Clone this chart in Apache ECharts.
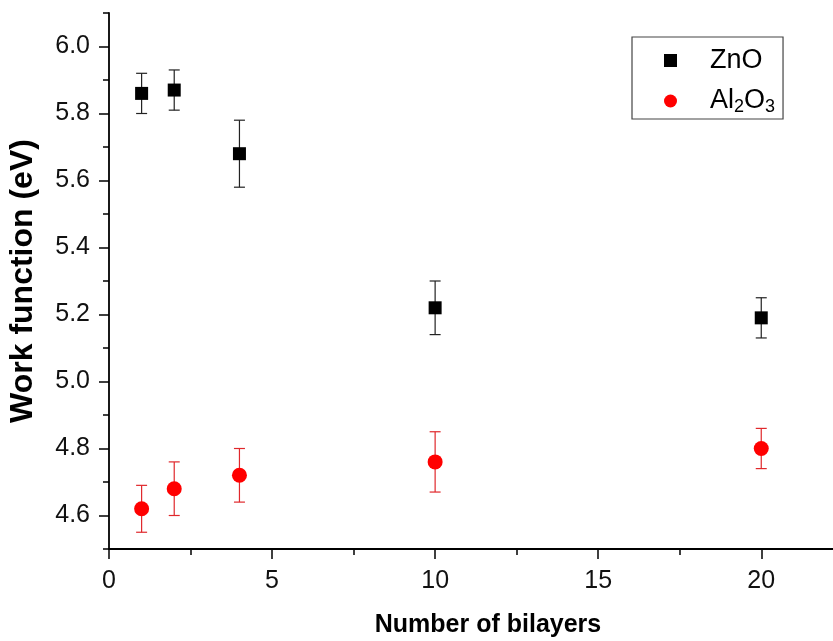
<!DOCTYPE html>
<html>
<head>
<meta charset="utf-8">
<script src="https://cdn.jsdelivr.net/npm/echarts@6/dist/echarts.min.js"></script>
<style>html,body{margin:0;padding:0;background:#fff}#c{width:833px;height:641px}</style>
</head>
<body>
<div id="c"></div>
<script>
// Data
const bilayers = [1, 2, 4, 10, 20];
const znoValues = [5.86, 5.87, 5.68, 5.22, 5.19];
const znoLow = [5.80, 5.81, 5.58, 5.14, 5.13];
const znoHigh = [5.92, 5.93, 5.78, 5.30, 5.25];
const alValues = [4.62, 4.68, 4.72, 4.76, 4.80];
const alLow = [4.55, 4.60, 4.64, 4.67, 4.74];
const alHigh = [4.69, 4.76, 4.80, 4.85, 4.86];
const xMajorTicks = [0, 5, 10, 15, 20];
const xMinorTicks = [2.5, 7.5, 12.5, 17.5];
const yMajorTicks = [4.6, 4.8, 5.0, 5.2, 5.4, 5.6, 5.8, 6.0];
const yMinorTicks = [4.5, 4.7, 4.9, 5.1, 5.3, 5.5, 5.7, 5.9, 6.1];

const FONT = '"Liberation Sans", Arial, sans-serif';
const X_MIN = 0, X_MAX = 22.2, Y_MIN = 4.5, Y_MAX = 6.1;

function errData(xs, lo, hi) { return xs.map((x, i) => [x, lo[i], hi[i]]); }
function errRender(color) {
  return function (params, api) {
    const x = api.value(0);
    const pLo = api.coord([x, api.value(1)]);
    const pHi = api.coord([x, api.value(2)]);
    const w = 5.5;
    const st = { stroke: color, lineWidth: 1.2 };
    return {
      type: 'group',
      children: [
        { type: 'line', shape: { x1: pLo[0], y1: pLo[1], x2: pHi[0], y2: pHi[1] }, style: st },
        { type: 'line', shape: { x1: pLo[0] - w, y1: pLo[1], x2: pLo[0] + w, y2: pLo[1] }, style: st },
        { type: 'line', shape: { x1: pHi[0] - w, y1: pHi[1], x2: pHi[0] + w, y2: pHi[1] }, style: st }
      ]
    };
  };
}

const axisLineStyle = { color: '#000', width: 1.8 };
const chart = echarts.init(document.getElementById('c'));
chart.setOption({
  animation: false,
  backgroundColor: '#fff',
  grid: { left: 109, right: 0, top: 13, bottom: 92, containLabel: false, outerBoundsMode: 'none' },
  xAxis: [
    {
      type: 'value', min: X_MIN, max: X_MAX,
      name: 'Number of bilayers', nameLocation: 'middle', nameGap: 64,
      nameTextStyle: { fontFamily: FONT, fontWeight: 'bold', fontSize: 25, color: '#000', padding: [0, 0, 0, 34] },
      axisLine: { show: true, lineStyle: axisLineStyle },
      axisTick: { show: true, length: 10, customValues: xMajorTicks, lineStyle: { color: '#000', width: 1.5 } },
      axisLabel: { customValues: xMajorTicks, margin: 20, fontFamily: FONT, fontSize: 25, color: '#111' },
      splitLine: { show: false }
    },
    {
      type: 'value', min: X_MIN, max: X_MAX, position: 'bottom',
      axisLine: { show: false },
      axisTick: { show: true, length: 6, customValues: xMinorTicks, lineStyle: { color: '#000', width: 1.5 } },
      axisLabel: { show: false },
      splitLine: { show: false }
    }
  ],
  yAxis: [
    {
      type: 'value', min: Y_MIN, max: Y_MAX,
      name: 'Work function (eV)', nameLocation: 'middle', nameGap: 70, nameRotate: 90,
      nameTextStyle: { fontFamily: FONT, fontWeight: 'bold', fontSize: 32, color: '#000' },
      axisLine: { show: true, lineStyle: axisLineStyle },
      axisTick: { show: true, length: 10, customValues: yMajorTicks, lineStyle: { color: '#000', width: 1.5 } },
      axisLabel: { customValues: yMajorTicks, margin: 19, fontFamily: FONT, fontSize: 25, color: '#111',
        formatter: v => v.toFixed(1) },
      splitLine: { show: false }
    },
    {
      type: 'value', min: Y_MIN, max: Y_MAX, position: 'left',
      axisLine: { show: false },
      axisTick: { show: true, length: 6, customValues: yMinorTicks, lineStyle: { color: '#000', width: 1.5 } },
      axisLabel: { show: false },
      splitLine: { show: false }
    }
  ],
  legend: {
    orient: 'vertical', left: 632, top: 37,
    padding: [10, 8, 3, 32], itemGap: 6,
    borderColor: '#444', borderWidth: 1.2,
    itemWidth: 13, itemHeight: 13,
    data: [{ name: 'ZnO', icon: 'rect' }, { name: 'Al2O3', icon: 'circle' }],
    formatter: function (name) {
      if (name === 'Al2O3') return '{n|Al}{s|2}{n|O}{s|3}';
      return '{n|' + name + '}';
    },
    textStyle: {
      padding: [0, 0, 0, 28],
      rich: {
        n: { fontFamily: FONT, fontSize: 27, color: '#000', lineHeight: 30, verticalAlign: 'middle' },
        s: { fontFamily: FONT, fontSize: 18, color: '#000', lineHeight: 30, verticalAlign: 'bottom', padding: [18, 0, 0, 0] }
      }
    }
  },
  series: [
    {
      name: 'ZnO err', type: 'custom', renderItem: errRender('#222'),
      data: errData(bilayers, znoLow, znoHigh), encode: { x: 0, y: [1, 2] }, z: 1, silent: true
    },
    {
      name: 'Al2O3 err', type: 'custom', renderItem: errRender('#e0282c'),
      data: errData(bilayers, alLow, alHigh), encode: { x: 0, y: [1, 2] }, z: 1, silent: true
    },
    {
      name: 'ZnO', type: 'scatter', symbol: 'rect', symbolSize: 13,
      itemStyle: { color: '#000', opacity: 1 }, z: 3,
      data: bilayers.map((x, i) => [x, znoValues[i]])
    },
    {
      name: 'Al2O3', type: 'scatter', symbol: 'circle', symbolSize: 15,
      itemStyle: { color: '#ff0000', opacity: 1 }, z: 3,
      data: bilayers.map((x, i) => [x, alValues[i]])
    }
  ]
});
</script>
</body>
</html>
